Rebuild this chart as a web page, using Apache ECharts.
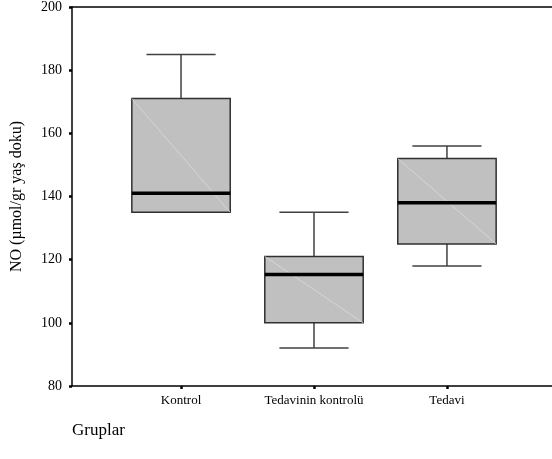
<!DOCTYPE html>
<html>
<head>
<meta charset="utf-8">
<script src="https://cdn.jsdelivr.net/npm/echarts@6/dist/echarts.min.js"></script>
<style>
  html, body { margin: 0; padding: 0; background: #fff; }
  #chart { width: 552px; height: 459px; }
</style>
</head>
<body>
<div id="chart"></div>
<script>
// groups and box statistics
const categories = ['Kontrol', 'Tedavinin kontrolü', 'Tedavi'];
const whiskerLow = [135, 92, 118];
const q1 = [135, 100, 125];
const median = [141, 115.3, 138];
const q3 = [171, 121, 152];
const whiskerHigh = [185, 135, 156];
const yTicks = [80, 100, 120, 140, 160, 180, 200];

const serif = '"Liberation Serif", "DejaVu Serif", serif';

// one row per group: [position, low, q1, median, q3, high]
const boxData = categories.map((c, i) => [i + 1, whiskerLow[i], q1[i], median[i], q3[i], whiskerHigh[i]]);

function renderBox(params, api) {
  const x = api.value(0);
  const unit = api.size([1, 0])[0];
  const half = unit * 0.37;
  const capHalf = unit * 0.26;
  const pLow = api.coord([x, api.value(1)]);
  const pQ1 = api.coord([x, api.value(2)]);
  const pMed = api.coord([x, api.value(3)]);
  const pQ3 = api.coord([x, api.value(4)]);
  const pHigh = api.coord([x, api.value(5)]);
  const cx = pQ1[0];
  const whisker = { stroke: '#404040', lineWidth: 1.5 };
  return {
    type: 'group',
    children: [
      { type: 'line', shape: { x1: cx, y1: pQ3[1], x2: cx, y2: pHigh[1] }, style: whisker },
      { type: 'line', shape: { x1: cx, y1: pQ1[1], x2: cx, y2: pLow[1] }, style: whisker },
      { type: 'line', shape: { x1: cx - capHalf, y1: pHigh[1], x2: cx + capHalf, y2: pHigh[1] }, style: whisker },
      { type: 'line', shape: { x1: cx - capHalf, y1: pLow[1], x2: cx + capHalf, y2: pLow[1] }, style: whisker },
      { type: 'rect', shape: { x: cx - half, y: pQ3[1], width: half * 2, height: pQ1[1] - pQ3[1] },
        style: { fill: '#c0c0c0', stroke: '#303030', lineWidth: 1.5 } },
      { type: 'line', shape: { x1: cx - half, y1: pQ3[1], x2: cx + half, y2: pQ1[1] },
        style: { stroke: '#dadada', lineWidth: 0.8 } },
      { type: 'line', shape: { x1: cx - half, y1: pMed[1], x2: cx + half, y2: pMed[1] },
        style: { stroke: '#000', lineWidth: 3.5 } }
    ]
  };
}

const chart = echarts.init(document.getElementById('chart'), null, { renderer: 'canvas' });
chart.setOption({
  animation: false,
  title: {
    text: 'Gruplar', left: 67, top: 417,
    textStyle: { fontFamily: serif, fontSize: 17, fontWeight: 'normal', color: '#000' }
  },
  grid: { left: 72, right: 0, top: 6, bottom: 73 },
  xAxis: [{
    type: 'value', min: 0.18, max: 3.79,
    splitLine: { show: false },
    axisLine: { lineStyle: { color: '#000', width: 1.5 } },
    axisTick: { customValues: [1, 2, 3], length: 3, lineStyle: { color: '#000', width: 2.5 } },
    axisLabel: {
      customValues: [1, 2, 3], margin: 8,
      formatter: v => categories[Math.round(v) - 1] || '',
      fontFamily: serif, fontSize: 13, color: '#000'
    }
  }, {
    type: 'value', position: 'top', min: 0.18, max: 3.79,
    splitLine: { show: false }, axisTick: { show: false }, axisLabel: { show: false },
    axisLine: { show: true, lineStyle: { color: '#000', width: 1.5 } }
  }],
  yAxis: {
    type: 'value', min: yTicks[0], max: yTicks[yTicks.length - 1], interval: 20,
    name: 'NO (µmol/gr yaş doku)', nameLocation: 'middle', nameGap: 47,
    nameTextStyle: { fontFamily: serif, fontSize: 16, color: '#000' },
    splitLine: { show: false },
    axisLine: { lineStyle: { color: '#000', width: 1.5 } },
    axisTick: { length: 3, lineStyle: { color: '#000', width: 2.5 } },
    axisLabel: { fontFamily: serif, fontSize: 14, color: '#000', margin: 10 }
  },
  series: [{
    type: 'custom',
    renderItem: renderBox,
    encode: { x: 0, y: [1, 2, 3, 4, 5] },
    data: boxData
  }]
});
</script>
</body>
</html>
